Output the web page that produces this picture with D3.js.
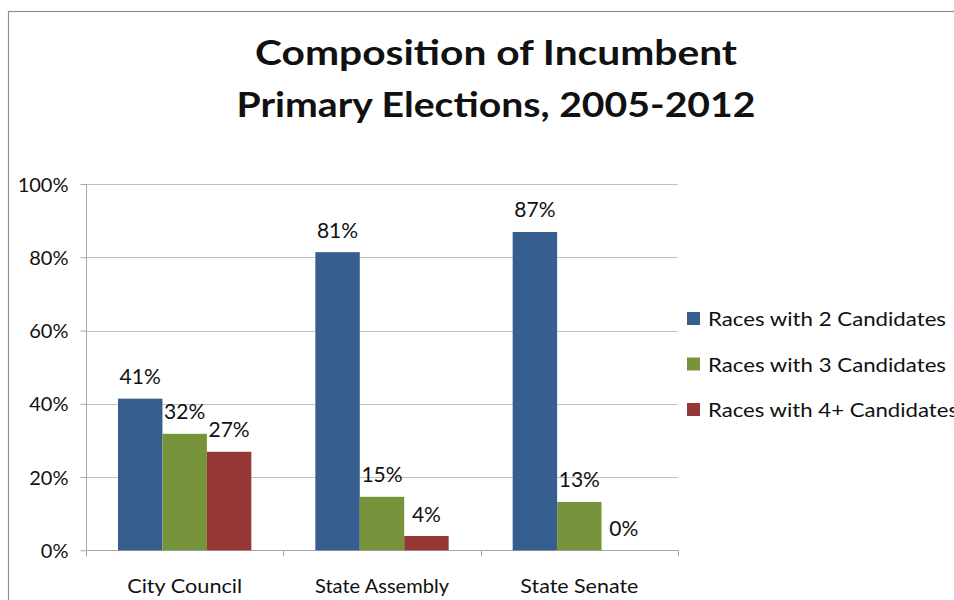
<!DOCTYPE html>
<html>
<head>
<meta charset="utf-8">
<script src="https://cdn.jsdelivr.net/npm/d3@7"></script>
<style>
  html, body { margin: 0; padding: 0; background: #fff; }
  svg { display: block; }
  text { font-family: Lato, "Open Sans", sans-serif; fill: #111; }
</style>
</head>
<body>
<svg id="chart" width="954" height="600"></svg>
<script>
const titleLines = ["Composition of Incumbent", "Primary Elections, 2005-2012"];
const categories = ["City Council", "State Assembly", "State Senate"];
const seriesNames = ["Races with 2 Candidates", "Races with 3 Candidates", "Races with 4+ Candidates"];
const races2 = [41.4, 81.4, 86.9];
const races3 = [31.8, 14.6, 13.2];
const races4 = [26.9, 3.9, 0];
const yTicks = [0, 20, 40, 60, 80, 100];
const colors = ["#365F8F", "#77933C", "#953735"];

const series = [races2, races3, races4];

const svg = d3.select("#chart");

// outer border
svg.append("rect").attr("x", 8.5).attr("y", 11.5).attr("width", 960).attr("height", 600)
  .attr("fill", "none").attr("stroke", "#8f8f8f").attr("stroke-width", 1.2);

// title
const titleY = [65, 117];
const titleW = [482, 519];
titleLines.forEach((t, i) => {
  svg.append("text").attr("x", 496).attr("y", titleY[i]).attr("text-anchor", "middle")
    .style("font-weight", "bold").style("font-size", "35px")
    .attr("textLength", titleW[i]).attr("lengthAdjust", "spacingAndGlyphs").text(t);
});

const pLeft = 86, pRight = 678, pTop = 184, pBottom = 550.3;
const x0 = d3.scaleBand().domain(categories).range([pLeft, pRight]).padding(0);
const gap = 32;
const x1 = d3.scaleBand().domain(d3.range(series.length)).range([gap, x0.bandwidth() - gap]).padding(0);
const y = d3.scaleLinear().domain([0, 100]).range([pBottom, pTop]);

// gridlines
svg.append("g").selectAll("line").data(yTicks.filter(d => d > 0)).join("line")
  .attr("x1", pLeft).attr("x2", pRight)
  .attr("y1", d => Math.round(y(d)) + 0.5).attr("y2", d => Math.round(y(d)) + 0.5)
  .attr("stroke", "#c0c0c0").attr("stroke-width", 1);

// y axis
const yAxis = d3.axisLeft(y).tickValues(yTicks).tickFormat(d => d + "%").tickSize(6).tickPadding(12);
const gy = svg.append("g").attr("transform", `translate(${pLeft + 0.5},0)`).call(yAxis);
gy.select(".domain").remove();
gy.selectAll(".tick line").attr("stroke", "#a6a6a6");
gy.selectAll(".tick text").style("font-size", "20px").style("font-family", "Lato, sans-serif")
  .attr("fill", "#111").attr("dy", "0.36em");
svg.append("line").attr("x1", pLeft + 0.5).attr("x2", pLeft + 0.5).attr("y1", pTop).attr("y2", pBottom + 6)
  .attr("stroke", "#a6a6a6");

// x axis
svg.append("line").attr("x1", pLeft).attr("x2", pRight).attr("y1", Math.round(pBottom) + 0.5).attr("y2", Math.round(pBottom) + 0.5)
  .attr("stroke", "#a6a6a6");
const bounds = categories.map(c => x0(c)).concat([pRight]);
svg.append("g").selectAll("line").data(bounds).join("line")
  .attr("x1", d => Math.round(d) + 0.5).attr("x2", d => Math.round(d) + 0.5)
  .attr("y1", pBottom).attr("y2", pBottom + 6).attr("stroke", "#a6a6a6");

const catW = [115, 134, 118];
svg.append("g").selectAll("text").data(categories).join("text")
  .attr("x", d => x0(d) + x0.bandwidth() / 2).attr("y", 593).attr("text-anchor", "middle")
  .style("font-size", "19px")
  .attr("textLength", (d, i) => catW[i]).attr("lengthAdjust", "spacingAndGlyphs")
  .text(d => d);

// bars
const groups = svg.append("g").selectAll("g").data(categories).join("g")
  .attr("transform", d => `translate(${x0(d)},0)`);
groups.selectAll("rect").data((c, ci) => series.map((s, si) => ({ si, v: s[ci] }))).join("rect")
  .attr("x", d => x1(d.si)).attr("width", x1.bandwidth())
  .attr("y", d => y(d.v)).attr("height", d => pBottom - y(d.v))
  .attr("fill", d => colors[d.si]);
groups.selectAll("text").data((c, ci) => series.map((s, si) => ({ si, v: s[ci] }))).join("text")
  .attr("x", d => x1(d.si) + x1.bandwidth() / 2).attr("y", d => y(d.v) - 14.5)
  .attr("text-anchor", "middle").style("font-size", "21px")
  .text(d => Math.round(d.v) + "%");

// legend
const legY = [318.5, 364, 409.5];
const legW = [238, 238, 250];
const leg = svg.append("g").selectAll("g").data(seriesNames).join("g")
  .attr("transform", (d, i) => `translate(687,${legY[i]})`);
leg.append("rect").attr("x", 0).attr("y", -6.5).attr("width", 13).attr("height", 13)
  .attr("fill", (d, i) => colors[i]);
leg.append("text").attr("x", 21).attr("y", 7.5).style("font-size", "19px")
  .attr("textLength", (d, i) => legW[i]).attr("lengthAdjust", "spacingAndGlyphs")
  .text(d => d);
</script>
</body>
</html>
